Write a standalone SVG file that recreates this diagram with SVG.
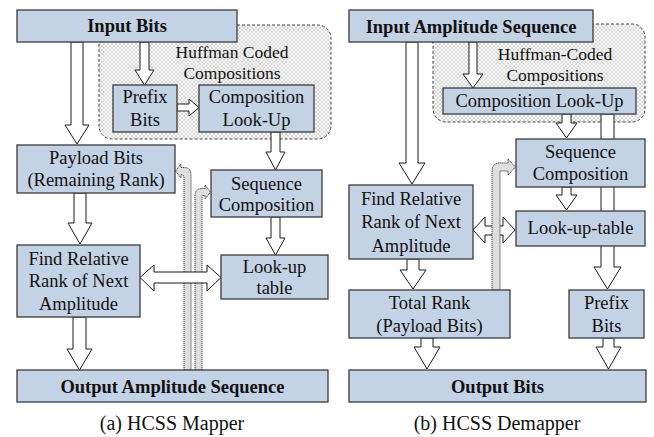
<svg xmlns="http://www.w3.org/2000/svg" width="654" height="437" viewBox="0 0 654 437" font-family="'Liberation Serif', 'DejaVu Serif', serif">
<defs>
<pattern id="hatch" width="4" height="4" patternUnits="userSpaceOnUse">
<rect width="4" height="4" fill="#ffffff"/>
<path d="M0,0 L4,4 M4,0 L0,4" stroke="#c4c4c4" stroke-width="0.7"/>
</pattern>
<style>
.box{fill:#c4d2e5;stroke:#3c3c3c;stroke-width:1.3}
.arr{fill:#ffffff;stroke:#1a1a1a;stroke-width:1}
.dot{fill:#dedede;stroke:#222;stroke-width:0.9;stroke-dasharray:1.2,0.8}
.reg{fill:url(#hatch);stroke:#444;stroke-width:1;stroke-dasharray:3,2}
text{font-family:'Liberation Serif',serif;font-size:18.5px;fill:#111;text-anchor:middle}
.b{font-weight:bold}
.h{font-size:17.5px}
.cap{font-size:20px}
</style>
</defs>
<rect width="654" height="437" fill="#ffffff"/>

<!-- regions -->
<g id="region-left"><rect class="reg" x="99" y="25" width="232" height="114" rx="13"/>
<text class="h" x="232" y="58">Huffman Coded</text><text class="h" x="232" y="79">Compositions</text></g>
<g id="region-right"><rect class="reg" x="433" y="24" width="212" height="98" rx="13"/>
<text class="h" x="555" y="60">Huffman-Coded</text><text class="h" x="555" y="81">Compositions</text></g>

<g id="connectors">
<!-- left panel -->
<polygon class="arr" points="71,42 83,42 83,125 89,125 77,144 65,125 71,125"/>
<polygon class="arr" points="140,42 149,42 149,70 154,70 144.5,85 135,70 140,70"/>
<polygon class="arr" points="177,104 189,104 189,99 199,107.5 189,116 189,111 177,111"/>
<polygon class="arr" points="271,132 280,132 280,152 285,152 275.5,170 266,152 271,152"/>
<polygon class="arr" points="74,193 86,193 86,223 92,223 80,244 68,223 74,223"/>
<polygon class="arr" points="271,217 280,217 280,238 285,238 275.5,255 266,238 271,238"/>
<polygon class="arr" points="73,317 86,317 86,349 92,349 79.5,370 67,349 73,349"/>
<path class="dot" d="M184,370 L184,178 Q184,174.5 181,174.5 L181,178 L175.5,171 L181,164 L181,167.5 L184,167.5 Q191,167.5 191,174.5 L191,370 Z"/>
<path class="dot" d="M195,370 L195,195.5 Q195,188.5 202,188.5 L205,188.5 L205,185 L210.5,192 L205,199 L205,195.5 L202,195.5 L202,370 Z"/>
<polygon class="arr" points="140,277.5 154,265 154,272 207,272 207,265 221,277.5 207,291 207,283 154,283 154,291"/>
<!-- right panel -->
<polygon class="arr" points="406,42 418,42 418,163 425,163 412,184 399,163 406,163"/>
<polygon class="arr" points="469,42 477,42 477,74 483,74 473,88 463,74 469,74"/>
<polygon class="arr" points="562,114 571,114 571,123 577,123 566.5,138 556,123 562,123"/>
<polygon class="arr" points="562,187 571,187 571,195 577,195 566.5,210 556,195 562,195"/>
<polygon class="arr" points="601,114 614,114 614,267 621,267 607.5,289 594,267 601,267"/>
<polygon class="arr" points="407,259 419,259 419,270 426,270 413,289 400,270 407,270"/>
<polygon class="arr" points="421,338 433,338 433,347 440,347 427,369 414,347 421,347"/>
<polygon class="arr" points="603,338 614,338 614,347 621,347 608.5,369 596,347 603,347"/>
<polygon class="arr" points="473,230 485,217 485,226 503,226 503,217 515,230 503,243 503,235 485,235 485,243"/>
<path class="dot" d="M492,290 L492,171 Q492,163 500,163 L508,163 L508,159 L515.5,167 L508,175 L508,171 L500,171 L500,290 Z"/>
</g>

<!-- left nodes -->
<g id="input-bits"><rect class="box" x="17" y="10" width="220" height="32"/><text class="b" x="127" y="32">Input Bits</text></g>
<g id="prefix-bits-l"><rect class="box" x="113" y="85" width="64" height="47"/><text x="145" y="103">Prefix</text><text x="145" y="126">Bits</text></g>
<g id="comp-lookup-l"><rect class="box" x="199" y="85" width="115" height="47"/><text x="256.5" y="103">Composition</text><text x="256.5" y="126">Look-Up</text></g>
<g id="payload-bits"><rect class="box" x="17" y="145" width="158" height="48"/><text x="96" y="164">Payload Bits</text><text x="96" y="186">(Remaining Rank)</text></g>
<g id="seq-comp-l"><rect class="box" x="211" y="170" width="111" height="47"/><text x="266.5" y="190">Sequence</text><text x="266.5" y="211">Composition</text></g>
<g id="find-rank-l"><rect class="box" x="17" y="245" width="123" height="72"/><text x="78.5" y="265">Find Relative</text><text x="78.5" y="287">Rank of Next</text><text x="78.5" y="310">Amplitude</text></g>
<g id="lookup-table-l"><rect class="box" x="221" y="255" width="107" height="44"/><text x="274.5" y="273">Look-up</text><text x="274.5" y="294">table</text></g>
<g id="output-amp"><rect class="box" x="17" y="370" width="311" height="32"/><text class="b" x="172.5" y="393">Output Amplitude Sequence</text></g>
<text class="cap" x="172" y="430">(a) HCSS Mapper</text>

<!-- right nodes -->
<g id="input-amp"><rect class="box" x="349" y="10" width="244" height="32"/><text class="b" x="471" y="33">Input Amplitude Sequence</text></g>
<g id="comp-lookup-r"><rect class="box" x="443" y="88" width="193" height="26"/><text x="539.5" y="107">Composition Look-Up</text></g>
<g id="seq-comp-r"><rect class="box" x="516" y="139" width="129" height="48"/><text x="580.5" y="158">Sequence</text><text x="580.5" y="180">Composition</text></g>
<g id="find-rank-r"><rect class="box" x="349" y="185" width="124" height="74"/><text x="411" y="205">Find Relative</text><text x="411" y="228">Rank of Next</text><text x="411" y="252">Amplitude</text></g>
<g id="lookup-table-r"><rect class="box" x="516" y="211" width="129" height="35"/><text x="580.5" y="234">Look-up-table</text></g>
<g id="total-rank"><rect class="box" x="349" y="290" width="161" height="48"/><text x="429.5" y="309">Total Rank</text><text x="429.5" y="332">(Payload Bits)</text></g>
<g id="prefix-bits-r"><rect class="box" x="569" y="290" width="75" height="48"/><text x="606.5" y="309">Prefix</text><text x="606.5" y="332">Bits</text></g>
<g id="output-bits"><rect class="box" x="349" y="370" width="297" height="32"/><text class="b" x="497.5" y="393">Output Bits</text></g>
<text class="cap" x="497" y="430">(b) HCSS Demapper</text>
</svg>
